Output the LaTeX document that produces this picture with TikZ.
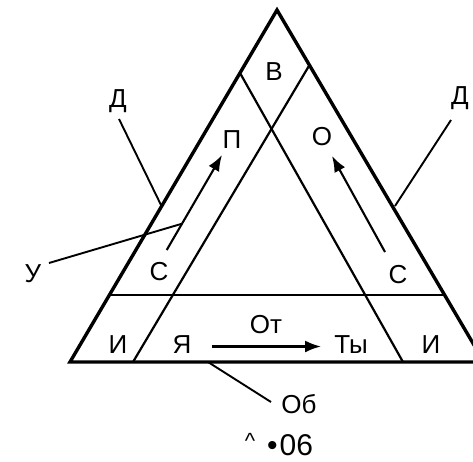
\documentclass[tikz,border=0pt]{standalone}
\usepackage{fontspec}
\setmainfont{Liberation Sans}
\usetikzlibrary{arrows.meta}
\begin{document}
\begin{tikzpicture}[x=1pt,y=-1pt,
  outer/.style={line width=3.4pt,line join=miter},
  inner/.style={line width=2.2pt},
  leader/.style={line width=1.9pt},
  flow/.style={line width=2.1pt,-{Latex[length=16pt,width=12pt]}},
  lbl/.style={font=\fontsize{26}{29}\selectfont,anchor=base,inner sep=0pt}]
\useasboundingbox (0,0) rectangle (473,461);
\begin{scope}
\clip (0,0) rectangle (473,461);
% outer triangle
\coordinate (A) at (277,10);
\coordinate (BL) at (70,362);
\coordinate (BR) at (484,362);
\draw[outer] (A) -- (BL) -- (BR) -- cycle;
% inner band lines
\coordinate (l1) at (309.5,65);
\coordinate (l2) at (133,362);
\coordinate (r1) at (240,73);
\coordinate (r2) at (403,362);
\coordinate (h1) at (110,295);
\coordinate (h2) at (444,295);
\draw[inner] (l1) -- (l2);
\draw[inner] (r1) -- (r2);
\draw[inner] (h1) -- (h2);
\end{scope}
% labels
\node[lbl] (V) at (274,80) {В};
\node[lbl] (P) at (232,148) {П};
\node[lbl] (O) at (322,145) {О};
\node[lbl] (SL) at (159,280) {С};
\node[lbl] (SR) at (398,283) {С};
\node[lbl] (IL) at (118,353) {И};
\node[lbl] (Ya) at (182,353) {Я};
\node[lbl] (Ot) at (266,333) {От};
\node[lbl] (Ty) at (351,353) {Ты};
\node[lbl] (IR) at (431,353) {И};
\node[lbl] (Ob) at (299,413) {Об};
\node[lbl] (DL) at (118,107) {Д};
\node[lbl] (DR) at (460,104) {Д};
\node[lbl] (U) at (33,282) {У};
\node[font=\fontsize{30}{34}\selectfont,anchor=base,inner sep=0pt] (cap) at (279,455)
  {\raisebox{7pt}{\fontsize{22}{24}\selectfont\textasciicircum}\hspace{12pt}•\hspace{2pt}06};
% arrows
\coordinate (aL1) at (166.7,250);
\coordinate (aL2) at (222,155);
\coordinate (aR1) at (385,252);
\coordinate (aR2) at (332,156);
\coordinate (aB1) at (211.7,346.5);
\coordinate (aB2) at (321,346.5);
\draw[flow] (aL1) -- (aL2);
\draw[flow] (aR1) -- (aR2);
\draw[flow] (aB1) -- (aB2);
% leaders
\coordinate (dL) at (161,205);
\coordinate (dR) at (395,206);
\coordinate (uE) at (181,224);
\coordinate (obE) at (208,362);
\draw[leader] (119,119) -- (dL);
\draw[leader] (451,120) -- (dR);
\draw[leader] (49,263) -- (uE);
\draw[leader] (271,402) -- (obE);
\end{tikzpicture}
\end{document}
